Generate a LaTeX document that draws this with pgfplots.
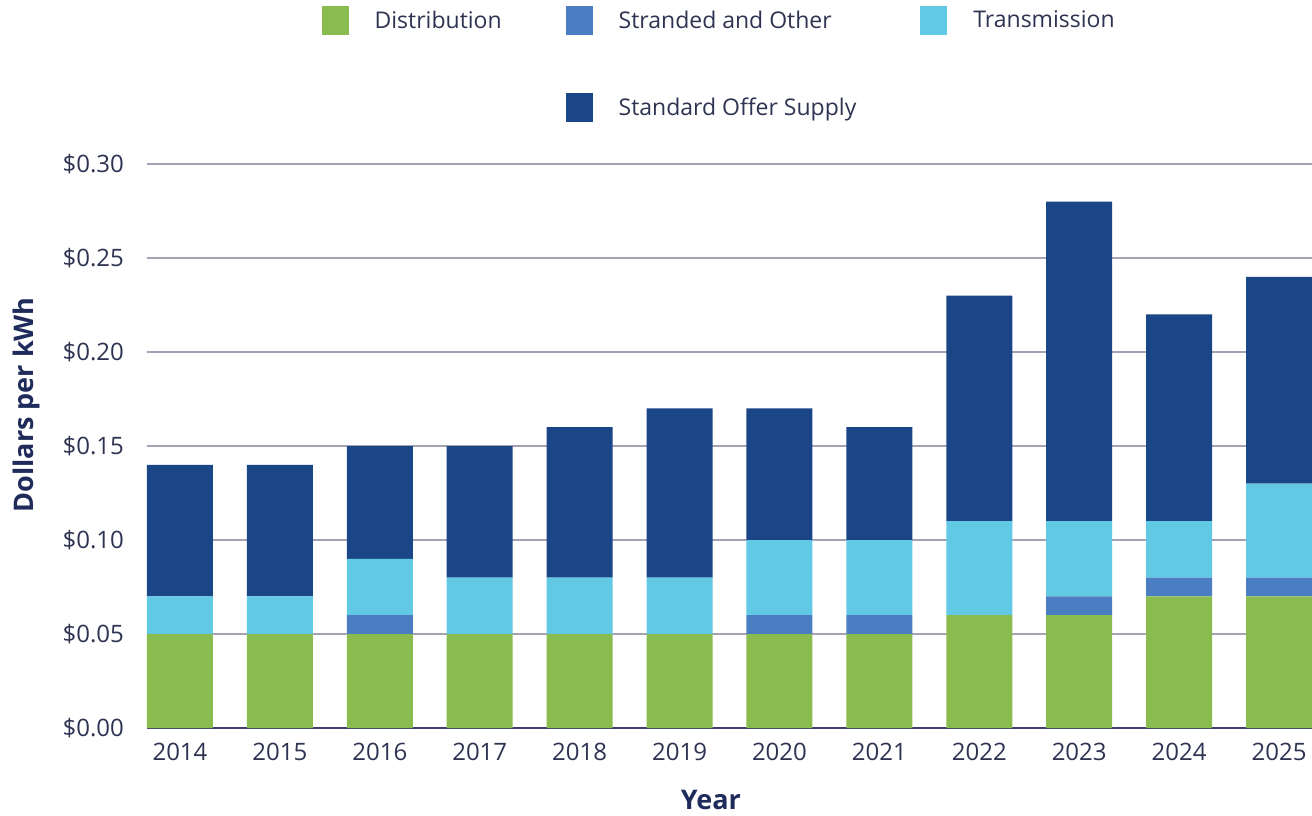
\documentclass[border=0pt]{standalone}
\usepackage{pgfplots}
\pgfplotsset{compat=1.18}
\usepackage{pgfplotstable}
\usepackage{fontspec}
\setmainfont{Open Sans}
\definecolor{cdist}{HTML}{8ABB4E}
\definecolor{cstrand}{HTML}{4A7DC2}
\definecolor{ctrans}{HTML}{62C9E4}
\definecolor{csupply}{HTML}{1A4587}
\definecolor{ctext}{HTML}{2E3352}
\definecolor{clabel}{HTML}{1E2B5B}
\definecolor{cgrid}{HTML}{A3A3B5}
\definecolor{caxis}{HTML}{3C3F6E}
\pgfplotstableread{
x dist strand trans supply
0  0.05 0.00 0.02 0.07
1  0.05 0.00 0.02 0.07
2  0.05 0.01 0.03 0.06
3  0.05 0.00 0.03 0.07
4  0.05 0.00 0.03 0.08
5  0.05 0.00 0.03 0.09
6  0.05 0.01 0.04 0.07
7  0.05 0.01 0.04 0.06
8  0.06 0.00 0.05 0.12
9  0.06 0.01 0.04 0.17
10 0.07 0.01 0.03 0.11
11 0.07 0.01 0.05 0.11
}\data
\begin{document}
\begin{tikzpicture}
\useasboundingbox (-73.5pt,-43.5pt) rectangle (582.5pt,364pt);
\begin{axis}[
  at={(0,0)}, anchor=south west,
  scale only axis,
  width=582.5pt, height=282pt,
  ybar stacked, bar width=33pt,
  xmin=-0.33, xmax=11.33,
  ymin=0, ymax=0.30,
  xtick=data,
  xticklabels={2014,2015,2016,2017,2018,2019,2020,2021,2022,2023,2024,2025},
  ytick={0,0.05,0.10,0.15,0.20,0.25,0.30},
  yticklabels={\$0.00,\$0.05,\$0.10,\$0.15,\$0.20,\$0.25,\$0.30},
  major tick length=0pt,
  axis x line*=bottom, axis y line*=left,
  y axis line style={draw=none},
  x axis line style={draw=caxis, line width=1pt},
  ymajorgrids, grid style={draw=cgrid, line width=0.75pt},
  /pgf/number format/assume math mode=true,
  tick label style={font=\fontsize{12}{14}\selectfont, text=ctext},
  yticklabel style={xshift=-8pt},
  xticklabel style={yshift=-4pt},
  xlabel={Year}, ylabel={Dollars per kWh},
  label style={font=\fontsize{13.5}{15}\selectfont\bfseries, text=clabel},
  xlabel style={at={(axis description cs:0.484,-0.127)}, anchor=center},
  ylabel style={at={(axis description cs:-0.1035,0.573)}, anchor=center},
  legend columns=3,
  legend cell align=left,
  legend image code/.code={\fill[#1] (0pt,-7.25pt) rectangle (13.5pt,7.25pt);},
  legend style={at={(axis description cs:0.492,1.280)}, anchor=north,
    draw=none, fill=none, inner sep=0pt,
    font=\fontsize{11.5}{13}\selectfont, text=ctext,
    row sep=29pt,
    /tikz/every odd column/.append style={column sep=11pt},
    /tikz/every even column/.append style={column sep=30pt}},
]
\addplot[fill=cdist, draw=none] table[x=x, y=dist] {\data};
\addlegendentry{Distribution}
\addplot[fill=cstrand, draw=none] table[x=x, y=strand] {\data};
\addlegendentry{Stranded and Other}
\addplot[fill=ctrans, draw=none] table[x=x, y=trans] {\data};
\addlegendentry{Transmission}
\addlegendimage{empty legend}
\addlegendentry{}
\addplot[fill=csupply, draw=none] table[x=x, y=supply] {\data};
\addlegendentry{Standard Offer Supply}
\end{axis}
\end{tikzpicture}
\end{document}
